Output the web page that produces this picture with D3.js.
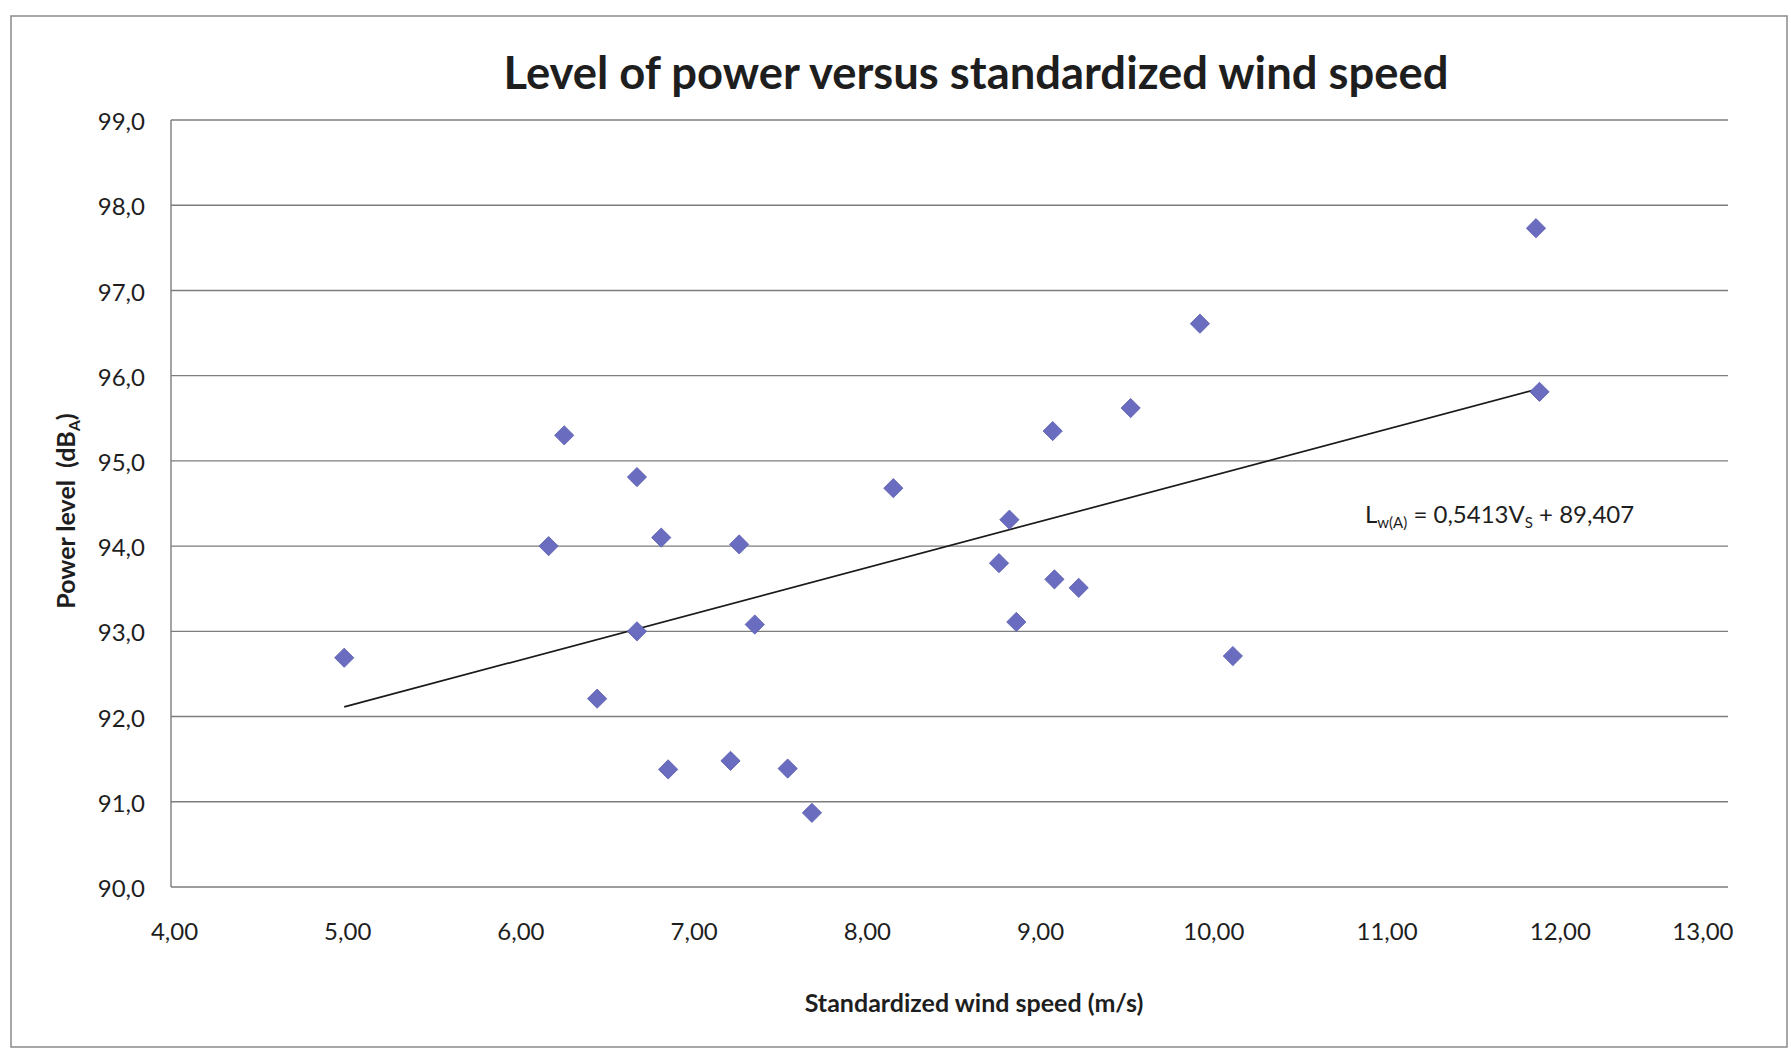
<!DOCTYPE html>
<html>
<head>
<meta charset="utf-8">
<script src="https://cdn.jsdelivr.net/npm/d3@7"></script>
<style>
  html, body { margin: 0; padding: 0; background: #ffffff; overflow: hidden; }
  svg { display: block; }
  text { fill: #1e1e1e; }
</style>
</head>
<body>
<div id="chart"></div>
<script>
// values
var windSpeed = [5.00, 6.18, 6.27, 6.46, 6.69, 6.69, 6.83, 6.87, 7.23, 7.28, 7.37, 7.56, 7.70,
                 8.17, 8.78, 8.84, 8.88, 9.09, 9.10, 9.24, 9.54, 9.94, 10.13, 11.88, 11.90];
var powerLevel = [92.69, 94.00, 95.30, 92.21, 93.00, 94.81, 94.10, 91.38, 91.48, 94.02, 93.08, 91.39, 90.87,
                  94.68, 93.80, 94.31, 93.11, 95.35, 93.61, 93.51, 95.62, 96.61, 92.71, 97.73, 95.81];
var xTicks = [4, 5, 6, 7, 8, 9, 10, 11, 12, 13];
var xTickLabels = ["4,00", "5,00", "6,00", "7,00", "8,00", "9,00", "10,00", "11,00", "12,00", "13,00"];
var yTicks = [90, 91, 92, 93, 94, 95, 96, 97, 98, 99];
var yTickLabels = ["90,0", "91,0", "92,0", "93,0", "94,0", "95,0", "96,0", "97,0", "98,0", "99,0"];
var trendSlope = 0.5413;
var trendIntercept = 89.407;

var w = 1791, h = 1053;
var margin = {top: 120, right: 61, bottom: 166, left: 171};
var innerWidth = w - margin.left - margin.right;
var innerHeight = h - margin.top - margin.bottom;
var font = "Lato, 'Open Sans', sans-serif";

var svg = d3.select("#chart")
  .append("svg")
    .attr("width", w)
    .attr("height", h);

svg.append("rect")
  .attr("x", 0).attr("y", 0)
  .attr("width", w).attr("height", h)
  .attr("fill", "white");

// outer chart frame
svg.append("rect")
  .attr("x", 11).attr("y", 16)
  .attr("width", 1776).attr("height", 1031)
  .attr("fill", "none")
  .attr("stroke", "#8a8a8a")
  .attr("stroke-width", 1.5);

var xScale = d3.scaleLinear().domain([4, 13]).range([0, innerWidth]);
var yScale = d3.scaleLinear().domain([90, 99]).range([innerHeight, 0]);

var plot = svg.append("g")
  .attr("transform", `translate(${margin.left}, ${margin.top})`);

// horizontal gridlines
plot.append("g")
  .selectAll("line")
  .data(yTicks)
  .enter().append("line")
    .attr("x1", 0)
    .attr("x2", innerWidth - 2)
    .attr("y1", d => yScale(d))
    .attr("y2", d => yScale(d))
    .attr("stroke", "#7d7d7d")
    .attr("stroke-width", 1.4);

// left axis line
plot.append("line")
  .attr("x1", 0).attr("x2", 0)
  .attr("y1", yScale(99)).attr("y2", yScale(90))
  .attr("stroke", "#7d7d7d")
  .attr("stroke-width", 1.4);

var yAxis = d3.axisLeft(yScale)
  .tickValues(yTicks)
  .tickSize(0)
  .tickPadding(26)
  .tickFormat((d, i) => yTickLabels[i]);

var xAxis = d3.axisBottom(xScale)
  .tickValues(xTicks)
  .tickSize(0)
  .tickPadding(36)
  .tickFormat((d, i) => xTickLabels[i]);

var gy = plot.append("g")
  .call(yAxis)
  .attr("font-family", font)
  .attr("font-size", 24);
gy.select(".domain").remove();
gy.selectAll("text")
  .attr("dy", "0.4em")
  .style("fill", "#1e1e1e");

var gx = plot.append("g")
  .attr("transform", `translate(0, ${innerHeight})`)
  .call(xAxis)
  .attr("font-family", font)
  .attr("font-size", 24);
gx.select(".domain").remove();
gx.selectAll("text")
  .attr("x", 3)
  .style("fill", "#1e1e1e");
// last label sits inside the chart edge
gx.selectAll(".tick").filter(d => d === 13).select("text")
  .attr("text-anchor", "end")
  .attr("x", 3);

// trend line from the fitted equation
var xMin = d3.min(windSpeed), xMax = d3.max(windSpeed);
var trend = [[xMin, trendSlope * xMin + trendIntercept], [xMax, trendSlope * xMax + trendIntercept]];
plot.append("path")
  .datum(trend)
  .attr("d", d3.line().x(d => xScale(d[0])).y(d => yScale(d[1])))
  .attr("fill", "none")
  .attr("stroke", "#1a1a1a")
  .attr("stroke-width", 1.7);

// diamond markers
var diamond = d3.symbol().type(d3.symbolSquare).size(185);
plot.append("g")
  .selectAll("path")
  .data(windSpeed.map((v, i) => [v, powerLevel[i]]))
  .enter().append("path")
    .attr("d", diamond)
    .attr("transform", d => `translate(${xScale(d[0])}, ${yScale(d[1])}) rotate(45)`)
    .attr("fill", "#6a6dbf")
    .attr("stroke", "#5d60b0")
    .attr("stroke-width", 0.8);

// title
svg.append("text")
  .attr("x", 976)
  .attr("y", 89)
  .attr("text-anchor", "middle")
  .attr("font-family", font)
  .attr("font-weight", "bold")
  .attr("font-size", 46)
  .attr("textLength", 945)
  .attr("lengthAdjust", "spacingAndGlyphs")
  .text("Level of power versus standardized wind speed");

// x axis title
svg.append("text")
  .attr("x", 974)
  .attr("y", 1012)
  .attr("text-anchor", "middle")
  .attr("font-family", font)
  .attr("font-weight", "bold")
  .attr("font-size", 25)
  .text("Standardized wind speed (m/s)");

// y axis title
var yTitle = svg.append("text")
  .attr("transform", "translate(75, 511) rotate(-90)")
  .attr("text-anchor", "middle")
  .attr("font-family", font)
  .attr("font-weight", "bold")
  .attr("font-size", 25)
  .style("white-space", "pre");
yTitle.append("tspan").text("Power level  (dB");
yTitle.append("tspan").attr("font-size", 16).attr("dy", 5).text("A");
yTitle.append("tspan").attr("dy", -5).text(")");

// regression equation
var eq = svg.append("text")
  .attr("x", 1365)
  .attr("y", 523)
  .attr("font-family", font)
  .attr("font-size", 24);
eq.append("tspan").text("L");
eq.append("tspan").attr("font-size", 15).attr("dy", 5).text("w(A)");
eq.append("tspan").attr("dy", -5).text(" = 0,5413V");
eq.append("tspan").attr("font-size", 15).attr("dy", 5).text("S");
eq.append("tspan").attr("dy", -5).text(" + 89,407");
</script>
</body>
</html>
